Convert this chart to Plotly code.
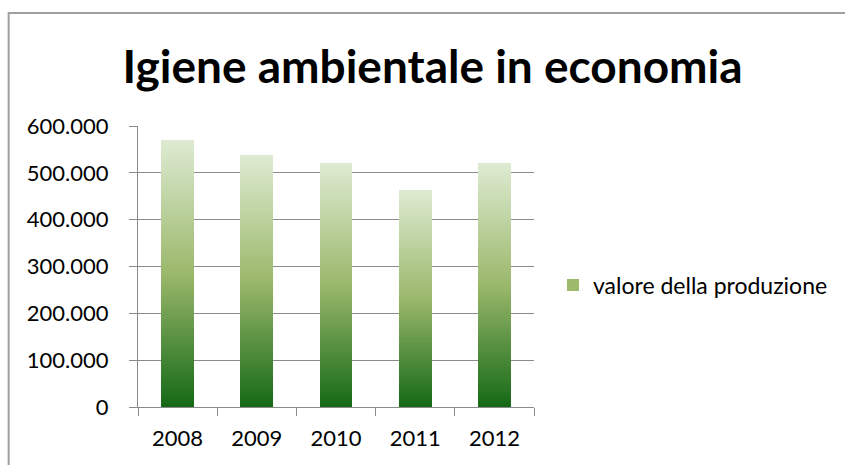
import plotly.graph_objects as go

# Valore della produzione per anno
years = ["2008", "2009", "2010", "2011", "2012"]
production = [570000, 538000, 521000, 463000, 521000]
y_ticks = [0, 100000, 200000, 300000, 400000, 500000, 600000]

series_name = "valore della produzione"
title_text = "Igiene ambientale in economia"

# Vertical gradient stops (0 = bottom of bar, 1 = top)
grad_stops = [(0.0, (0x14, 0x69, 0x16)), (0.5, (0x9B, 0xB8, 0x6B)), (1.0, (0xDE, 0xEB, 0xD2))]
n_slices = 80


def grad_color(t):
    for (t0, c0), (t1, c1) in zip(grad_stops[:-1], grad_stops[1:]):
        if t0 <= t <= t1:
            f = (t - t0) / (t1 - t0)
            r, g, b = (round(a + (b_ - a) * f) for a, b_ in zip(c0, c1))
            return f"rgb({r},{g},{b})"
    r, g, b = grad_stops[-1][1]
    return f"rgb({r},{g},{b})"


fig = go.Figure()

# Each bar is stacked from equal slices of its own value, shaded bottom to top
legend_slice = n_slices // 2
for i in range(n_slices):
    t = (i + 0.5) / n_slices
    fig.add_trace(go.Bar(
        x=years,
        y=[v / n_slices for v in production],
        marker=dict(color=grad_color(t), line=dict(width=0)),
        name=series_name,
        showlegend=(i == legend_slice),
        hoverinfo="skip",
    ))

font_family = "Lato, Carlito, 'Open Sans', sans-serif"
grid_col = "#8A8A8A"

fig.update_layout(
    width=845,
    height=465,
    barmode="stack",
    bargap=0.585,
    paper_bgcolor="white",
    plot_bgcolor="white",
    separators=",.",
    margin=dict(l=138, r=309, t=126, b=58),
    font=dict(family=font_family, size=22, color="black"),
    title=dict(
        text=f"<b>{title_text}</b>",
        font=dict(family=font_family, size=46, color="black"),
        x=0.512, xanchor="center",
        y=0.856, yanchor="middle",
    ),
    legend=dict(
        x=1.048, xanchor="left",
        y=0.434, yanchor="middle",
        xref="paper", yref="paper",
        font=dict(family=font_family, size=23, color="black"),
        bgcolor="rgba(0,0,0,0)",
        itemwidth=30,
    ),
    xaxis=dict(
        type="category",
        showgrid=False,
        showline=True, linecolor=grid_col, linewidth=1,
        ticks="outside", ticklen=8, tickcolor=grid_col, tickwidth=1,
        tickson="boundaries",
        ticklabelstandoff=12,
        tickfont=dict(family=font_family, size=22, color="black"),
    ),
    yaxis=dict(
        range=[0, 600000],
        tickvals=y_ticks,
        tickformat=",d",
        showgrid=True, gridcolor=grid_col, gridwidth=1,
        showline=True, linecolor=grid_col, linewidth=1,
        zeroline=False,
        ticks="outside", ticklen=8, tickcolor=grid_col, tickwidth=1,
        ticklabelstandoff=16,
        tickfont=dict(family=font_family, size=22, color="black"),
    ),
    shapes=[
        # chart frame
        dict(type="rect", xref="paper", yref="paper",
             x0=(8 - 138) / 398, x1=1.9, y0=-0.6, y1=1 + (126 - 13) / 281,
             line=dict(color="#A0A0A0", width=2), fillcolor="rgba(0,0,0,0)",
             layer="below"),
    ],
)

fig.write_html("out.html")
